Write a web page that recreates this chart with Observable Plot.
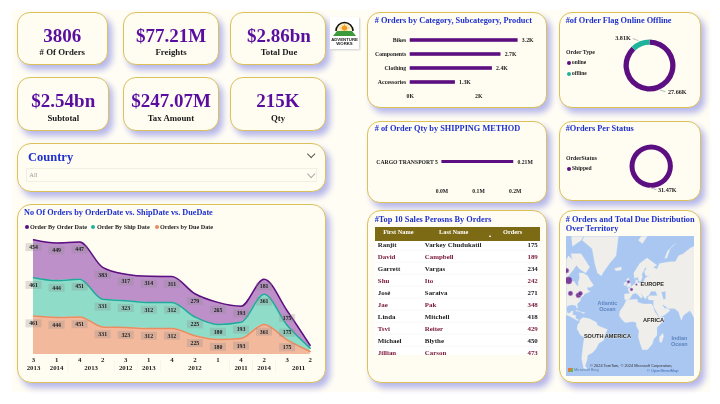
<!DOCTYPE html>
<html><head><meta charset="utf-8">
<script src="https://cdn.jsdelivr.net/npm/d3@7"></script>
<script src="https://cdn.jsdelivr.net/npm/@observablehq/plot@0.6"></script>
<style>
html,body{margin:0;padding:0;background:#fff;width:720px;height:404px;overflow:hidden}
#page{position:relative;width:720px;height:404px;overflow:hidden;font-family:"Liberation Serif",serif;font-weight:bold;filter:blur(0.4px)}
#page div{position:absolute;white-space:nowrap;line-height:1}
#page svg{position:absolute}
</style></head><body><div id="page"></div>
<script>
// ---- data ----
const kpiValues = ["3806","$77.21M","$2.86bn","$2.54bn","$247.07M","215K"];
const kpiLabels = ["# Of Orders","Freights","Total Due","Subtotal","Tax Amount","Qty"];
const seriesNames = ["Orders by Due Date","Order By Ship Date","Order By Order Date"];
const dueDate   = [461,444,451,331,323,312,312,225,180,193,361,175,36];
const shipDate  = [461,444,451,331,323,312,312,225,180,193,361,175,40];
const orderDate = [454,449,447,383,317,314,311,279,265,193,181,175,32];
const quarters  = ["3","1","4","2","3","1","4","2","1","4","2","3","2"];
const yearLabels = ["2013","2014","2013","2012","2013","2012","2011","2014","2011"];
const yearCenters = [0,1,2.5,4,5,7,9,10,11.5];
const yearBreaks = [1.5,3.5,4.5,5.5,8.5,9.5,10.5];
const categories = ["Bikes","Components","Clothing","Accessories"];
const categoryOrders = [3150,2650,2400,1320];
const categoryLabels = ["3.2K","2.7K","2.4K","1.3K"];
const shipMethods = ["CARGO TRANSPORT 5"];
const shipQty = [0.196];
const shipQtyLabels = ["0.21M"];
const flagNames = ["online","offline"];
const flagOrders = [27660,3810];
const statusNames = ["Shipped"];
const statusOrders = [31470];
const firstNames = ["Ranjit","David","Garrett","Shu","José","Jae","Linda","Tsvi","Michael","Jillian"];
const lastNames = ["Varkey Chudukatil","Campbell","Vargas","Ito","Saraiva","Pak","Mitchell","Reiter","Blythe","Carson"];
const salesOrders = [175,189,234,242,271,348,418,429,450,473];
const bubbleLon = [-94,-97,-91,-79,-76,-3,1.5,9];
const bubbleLat = [56.2,63.6,43.7,41.5,43.7,55,47.8,52.6];
const bubbleR   = [3.6,2.4,2.3,2.5,2.2,1.4,1.4,0.9];
const mapLabels = [["EUROPE",33,52.6],["AFRICA",35,7.5],["SOUTH AMERICA",-35,-16.5]];
const oceanLabels = [["Atlantic",-35,32.5,"middle"],["Ocean",-35,23.6,"middle"],["Indian",74,-19.5,"start"],["Ocean",74,-27,"start"]];
const land = [
 [[-100,68],[-94,72],[-85,69],[-82,67],[-87,64],[-94,60],[-92,57],[-85,55],[-82,52],[-79,51],[-79,55],[-77,58],[-78,62],[-72,62],[-65,60],[-62,57],[-56,52],[-60,50],[-66,50],[-65,47],[-61,46],[-66,44],[-70,43],[-71,41],[-74,40],[-76,37],[-76,35],[-81,31],[-80,26],[-81,25],[-83,29],[-89,30],[-94,29],[-97,27],[-97,22],[-95,18],[-91,19],[-90,21],[-87,21],[-88,16],[-83,15],[-83,10],[-79,9],[-80,7],[-85,10],[-92,14],[-100,17],[-110,24],[-125,40],[-130,55],[-140,60],[-165,65],[-160,71],[-130,70]],
 [[-77,8],[-72,12],[-62,10],[-52,5],[-50,0],[-44,-2.5],[-35,-6],[-39,-14],[-41,-22],[-48,-26],[-53,-34],[-58,-38],[-65,-41],[-66,-46],[-69,-52],[-65,-55],[-71,-54],[-74,-45],[-72,-30],[-70,-18],[-76,-14],[-81,-5],[-80,1],[-77,5]],
 [[-73,78],[-60,82],[-30,83.5],[-18,80],[-22,72],[-32,68],[-42,62],[-44,60],[-50,62],[-54,68],[-58,75]],
 [[-90,73],[-75,73],[-62,66],[-68,62],[-78,65],[-88,70]],
 [[-90,80],[-70,83],[-62,82],[-75,78],[-88,76]],
 [[-83,22],[-75,20],[-78,21],[-82,23]],
 [[-74,20],[-69,19],[-72,18]],
 [[-24,65],[-14,66],[-14,64],[-22,63.5]],
 [[-5,50],[1,51],[0,53],[-2,56],[-3,58.5],[-6,57],[-3,54],[-5,52]],
 [[-10,52],[-6,52],[-6,55],[-9,54.5]],
 [[12,78],[20,80],[28,80],[18,77]],
 [[52,71],[56,74],[68,77],[60,75],[55,71]],
 [[-9,37],[-9,43],[-1,43.5],[-4,48],[2,51],[8,54],[8,57],[11,56],[10,54],[20,54.5],[21,57],[24,59],[30,60],[23,60],[21,63],[25,65.5],[22,65.5],[17,61],[18,59],[16,56],[13,55.5],[11,59],[6,58],[5,62],[14,68],[25,71],[40,67],[34,66],[40,64.5],[44,68],[60,69],[68,69],[73,72],[80,73],[105,77],[140,73],[178,69],[178,50],[120,30],[105,20],[108,10],[100,13],[100,5],[98,8],[94,16],[90,22],[80,15],[77,8],[73,20],[67,25],[57,25],[50,30],[48,30],[52,25],[56,25],[60,22],[52,16],[44,12],[39,21],[35,28],[35,36],[28,36],[26,39],[29,41],[41,41],[38,46],[31,46],[28,42],[24,40],[23,37],[20,40],[14,45],[18,40],[16,38],[12,42],[8,44],[3,43],[0,39],[-2,37],[-5,36]],
 [[-6,36],[10,37],[11,33],[20,31],[32,31],[34,28],[37,20],[43,12],[51,12],[48,5],[40,-3],[40,-15],[35,-20],[33,-27],[26,-34],[18,-34.5],[15,-27],[12,-17],[13,-8],[9,-1],[9,4],[4,6],[-8,4.5],[-13,9],[-17,15],[-16,21],[-10,29]],
 [[49,-12],[50,-16],[47,-25],[44,-24],[44,-17]]
];
const water = [[[47,45],[53,46],[53,37],[50,37]]];

// ---- colours ----
const PURPLE="#5C0F80", TEAL="#1FB39B", ORANGE="#E88A5E", BLUE="#1E2FCF", INK="#1a1a1a", KPI="#5A0EA0", SEA="#A9C7F1";
const serif='"Liberation Serif",serif';
const page=document.getElementById("page");

// ---- layout helpers (page furniture, not data marks) ----
function box(x,y,w,h,css){const d=document.createElement("div");
 d.style.cssText=`left:${x}px;top:${y}px;width:${w}px;height:${h}px;box-sizing:border-box;`+(css||"");page.appendChild(d);return d;}
function card(x0,y0,x1,y1,r=13){return box(x0,y0,x1-x0,y1-y0,`background:#FFFDF2;border:1.3px solid #DCC05A;border-radius:${r}px;box-shadow:4px 5px 6px #B6B7EA;`);}
function txt(x,y,s,{size=6,color=INK,a="c",family=serif,weight="bold",extra=""}={}){
 const d=document.createElement("div");d.textContent=s;
 const tx=a==="c"?"-50%":a==="r"?"-100%":"0";
 d.style.cssText=`left:${x}px;top:${y}px;transform:translate(${tx},-50%);font-size:${size}px;color:${color};font-family:${family};font-weight:${weight};${extra}`;
 page.appendChild(d);return d;}
function title(x,y,s,size=8.3){return txt(x,y,s,{size,color:BLUE,a:"l"});}
function legendDot(x,y,c){box(x-2.2,y-2.2,4.4,4.4,`background:${c};border-radius:50%;`);}
function leader(x1,y1,x2,y2){const len=Math.hypot(x2-x1,y2-y1),ang=Math.atan2(y2-y1,x2-x1)*180/Math.PI;
 box(x1,y1,len,0.6,`background:#bdbdbd;transform-origin:0 0;transform:rotate(${ang}deg);`);}
function chevron(x,y,c){box(x-3.2,y-4.6,6.4,6.4,`border-right:0.8px solid ${c};border-bottom:0.8px solid ${c};transform:rotate(45deg);`);}
function mount(svg,x,y,bg="transparent"){svg.style.left=x+"px";svg.style.top=y+"px";svg.style.background=bg;page.appendChild(svg);}
const baseStyle=size=>({fontFamily:serif,fontWeight:"bold",fontSize:size+"px",background:"transparent",color:INK,overflow:"hidden"});

// ---- background ----
box(12,10,698,382,"background:#FFFDF4;");

// ---- KPI cards ----
const kpiBoxes=[[17.3,11.7,107.7,65,62.3],[123,11.7,219,65,171],[230,11.7,325.7,65,279],[17.3,77.3,109.3,130.7,63.3],[123,77.3,219,130.7,171],[230,77.3,325.7,130.7,278]];
kpiBoxes.forEach((b,i)=>{card(b[0],b[1],b[2],b[3]);
 txt(b[4],b[1]+23,kpiValues[i],{size:19,color:KPI});
 txt(b[4],b[1]+40.4,kpiLabels[i],{size:8.8,color:INK});});

// ---- logo ----
box(330,16.7,29,32,"background:#fff;box-shadow:1px 1px 2px #ccc;");
const logo=document.createElementNS("http://www.w3.org/2000/svg","svg");
logo.setAttribute("width",29);logo.setAttribute("height",32);logo.style.cssText="left:330px;top:16.7px;";
logo.innerHTML=`<path d="M6,14 A8.5,8.5 0 0 1 23,14" fill="#fdf3d0" stroke="#111" stroke-width="1.6"/>
<circle cx="14.5" cy="11" r="2.6" fill="#F29A1F"/><g stroke="#F29A1F" stroke-width=".6"><path d="M14.5 6v10M9.5 11h10M11 7.5l7 7M18 7.5l-7 7"/></g>
<path d="M3,19 L7,14 H22 L26,19Z" fill="#3C9A3A"/>
<text x="14.5" y="23.5" text-anchor="middle" font-family="Liberation Sans" font-weight="bold" font-size="4.3" fill="#222">ADVENTURE</text>
<text x="14.5" y="27.8" text-anchor="middle" font-family="Liberation Sans" font-weight="bold" font-size="4.3" fill="#222">WORKS</text>`;
page.appendChild(logo);

// ---- country slicer ----
card(17.3,143.3,325.7,191.7,14);
txt(28,157.3,"Country",{size:12.5,color:BLUE,a:"l"});
chevron(310.7,155.7,"#555");
box(26,168.3,291,13.4,"border:0.6px solid #F1EFE2;");
txt(29.3,175,"All",{size:6.5,color:"#9a9a9a",a:"l",weight:"normal"});
chevron(310.7,175.7,"#aaa");

// ---- area chart ----
card(17.3,203.5,325.7,383,14);
title(24,212.5,"No Of Orders by OrderDate vs. ShipDate vs. DueDate",8.2);
[[26.7,30,PURPLE,seriesNames[2]],[93.3,97,TEAL,seriesNames[1]],[156.7,160,ORANGE,seriesNames[0]]].forEach(l=>{
 legendDot(l[0],226.7,l[2]);txt(l[1],226.7,l[3],{size:6.2,a:"l"});});
const long=[];
[[dueDate,0],[shipDate,1],[orderDate,2]].forEach(([vals,k])=>vals.forEach((v,i)=>long.push({i,v,s:seriesNames[k]})));
const areaColors={domain:seriesNames,range:["#F3B99D","#8FDDC9","#BD90C9"]};
const lineColors={[seriesNames[0]]:"#E98C62",[seriesNames[1]]:"#22A99C",[seriesNames[2]]:PURPLE};
const boxSym={draw(ctx){ctx.moveTo(-8,-4);ctx.lineTo(8,-4);ctx.lineTo(8,4);ctx.lineTo(-8,4);ctx.closePath();}};
const stackOpts=extra=>({x:"i",y:"v",z:"s",order:null,...extra});
mount(Plot.plot({
 width:308.4,height:153,marginLeft:16,marginRight:15.7,marginTop:9.3,marginBottom:29,
 style:baseStyle(5.8),
 x:{axis:null,domain:[0,12]},y:{axis:null,domain:[0,1376]},
 color:areaColors,
 marks:[
  Plot.ruleX(yearBreaks,{y1:-75,y2:-215,stroke:"#F1EEDF",strokeWidth:0.6}),
  Plot.areaY(long,Plot.stackY(stackOpts({fill:"s",curve:"monotone-x"}))),
  Plot.lineY(long,Plot.stackY2(stackOpts({stroke:d=>lineColors[d.s],strokeWidth:1.5,curve:"monotone-x"}))),
  Plot.dot(long,Plot.stackY2(stackOpts({symbol:boxSym,fill:d=>d.i<12?"#8c8c8c":"none",fillOpacity:0.28,dy:7.3}))),
  Plot.text(long,Plot.stackY2(stackOpts({text:d=>d.i<12?String(d.v):"",dy:7.3,fill:INK}))),
  Plot.text(quarters,{x:(d,i)=>i,text:d=>d,frameAnchor:"bottom",dy:7.6,fill:INK,fontSize:6.8}),
  Plot.text(yearLabels,{x:(d,i)=>yearCenters[i],text:d=>d,frameAnchor:"bottom",dy:15.8,fill:INK,fontSize:6.8})
 ]
}),17.3,230);

// ---- category bars ----
card(367.3,11.7,547,108);
title(374.7,20.7,"# Orders by Category, Subcategory, Product");
const catRows=categories.map((c,i)=>({c,v:categoryOrders[i],l:categoryLabels[i]}));
mount(Plot.plot({
 width:180,height:96,marginLeft:42.7,marginRight:27.7,marginTop:20,marginBottom:17.7,style:baseStyle(5.8),
 x:{domain:[0,3200],axis:null},
 y:{domain:categories,padding:0,axis:null},
 marks:[
  Plot.barX(catRows,{x:"v",y:"c",fill:PURPLE,insetTop:5.2,insetBottom:5.2}),
  Plot.axisY({tickSize:0,tickPadding:4,label:null,fontSize:5.8}),
  Plot.text(catRows,{x:"v",y:"c",text:"l",textAnchor:"start",dx:3.7,fill:INK}),
  Plot.axisX({ticks:[0,2000],tickFormat:d=>(d/1000)+"K",tickSize:0,tickPadding:3.5,label:null,fontSize:5.8})
 ]
}),367.3,12);

// ---- flag donut ----
function arcSymbol(a0,a1,r0,r1){return {draw(ctx){d3.arc().context(ctx)({innerRadius:r0,outerRadius:r1,startAngle:a0,endAngle:a1});}};}
function donut(values,colors,r0,r1,cx,cy){
 const pie=d3.pie().sort(null)(values);
 const s=2*r1+4;
 mount(Plot.plot({width:s,height:s,margin:0,style:{background:"transparent"},
  x:{axis:null},y:{axis:null},
  marks:pie.map((p,i)=>Plot.dot([p],{frameAnchor:"middle",fill:colors[i],symbol:arcSymbol(p.startAngle,p.endAngle,r0,r1)}))
 }),cx-s/2,cy-s/2);
}
card(559,11.7,701,108);
title(565.7,20.7,"#of Order Flag Online Offline");
txt(566,53.3,"Order Type",{size:5.8,a:"l"});
legendDot(568.7,62.7,PURPLE);txt(572,62.7,flagNames[0],{size:5.4,a:"l"});
legendDot(568.7,74.2,TEAL);txt(572,74,flagNames[1],{size:5.4,a:"l"});
donut(flagOrders,[PURPLE,TEAL],20.7,26,649.3,64.7);
leader(633,37.7,639,40);txt(623,37.7,"3.81K",{size:6.2});
leader(659,89.3,666,91.7);txt(677.3,91.7,"27.66K",{size:6.2});

// ---- shipping method bar ----
card(367.3,120.5,547,203);
title(374.7,129.3,"# of Order Qty by SHIPPING METHOD");
const shipRows=shipMethods.map((m,i)=>({m,v:shipQty[i],l:shipQtyLabels[i]}));
mount(Plot.plot({
 width:180,height:83,marginLeft:74.4,marginRight:32.3,marginTop:31.8,marginBottom:31.2,style:baseStyle(5.7),
 x:{domain:[0,0.2],axis:null,clamp:false},
 y:{domain:shipMethods,padding:0,axis:null},
 marks:[
  Plot.barX(shipRows,{x:"v",y:"m",fill:PURPLE,insetTop:8,insetBottom:8}),
  Plot.axisY({tickSize:0,tickPadding:4,label:null,fontSize:5.7}),
  Plot.text(shipRows,{x:"v",y:"m",text:"l",textAnchor:"start",dx:3.7,fill:INK}),
  Plot.axisX({ticks:[0,0.1,0.2],tickFormat:d=>d.toFixed(1)+"M",tickSize:0,tickPadding:16.5,label:null,fontSize:5.7})
 ]
}),367.3,120);

// ---- status donut ----
card(559,120.5,701,201);
title(565.7,129.3,"#Orders Per Status");
txt(566,159.3,"OrderStatus",{size:5.8,a:"l"});
legendDot(568.7,169.3,PURPLE);txt(572,169.3,statusNames[0],{size:5.6,a:"l"});
donut(statusOrders,[PURPLE],16.7,21.7,650.3,165.7);
leader(650,187.3,657,189.7);txt(667.3,189.7,"31.47K",{size:6.2});

// ---- table ----
card(367.3,210,547,383,14);
title(374.7,219.7,"#Top 10 Sales Perosns By Orders");
box(375,226.7,165,14,"background:#7D6A14;");
[["First Name",398.3],["Last Name",453.7],["Orders",512.7]].forEach(h=>txt(h[1],231.9,h[0],{size:6.3,color:"#fff"}));
txt(490,237.4,"▲",{size:3.6,color:"#fff"});
box(375,240.7,165,114,"background:#FFFFFF;");
const rows=firstNames.map((f,i)=>({i,f,l:lastNames[i],o:salesOrders[i]}));
const rowColor=d=>d.i%2?"#7A1736":"#222222";
mount(Plot.plot({
 width:165,height:114,margin:0,style:baseStyle(6.9),
 x:{axis:null},y:{domain:d3.range(10),padding:0,axis:null},
 marks:[
  Plot.ruleY(rows,{y:"i",dy:5.7,stroke:"#EEEEEE",strokeWidth:0.5}),
  Plot.text(rows,{y:"i",text:"f",frameAnchor:"left",dx:2.3,dy:0.7,fill:rowColor}),
  Plot.text(rows,{y:"i",text:"l",frameAnchor:"left",dx:49.3,dy:0.7,fill:rowColor}),
  Plot.text(rows,{y:"i",text:"o",frameAnchor:"right",dx:-2.7,dy:0.7,fill:rowColor})
 ]
}),375,240.7);

// ---- map ----
card(559,210,701,383,14);
title(565.7,219.7,"# Orders and Total Due Distribution");
title(565.7,229.3,"Over Territory");
const toFeature=r=>{const ring=[...r,r[0]];let g={type:"Polygon",coordinates:[ring]};
 if(d3.geoArea(g)>2*Math.PI)g={type:"Polygon",coordinates:[[...ring].reverse()]};return g;};
const bubbles=bubbleLon.map((lon,i)=>({lon,lat:bubbleLat[i],r:bubbleR[i]}));
mount(Plot.plot({
 width:128,height:140,margin:0,style:{overflow:"hidden"},
 projection:()=>d3.geoMercator().scale(37.8).translate([64,89]).clipExtent([[0,0],[128,140]]),
 r:{type:"identity"},
 marks:[
  Plot.geo({type:"FeatureCollection",features:land.map(r=>({type:"Feature",geometry:toFeature(r)}))},{fill:"#EFEEEA",stroke:"#F6F5F2",strokeWidth:0.3}),
  Plot.geo({type:"FeatureCollection",features:water.map(r=>({type:"Feature",geometry:toFeature(r)}))},{fill:SEA}),
  Plot.dot(bubbles,{x:"lon",y:"lat",r:"r",fill:PURPLE,fillOpacity:0.78,stroke:"#B494CC",strokeWidth:0.5}),
  Plot.text(mapLabels,{x:d=>d[1],y:d=>d[2],text:d=>d[0],fontFamily:"Liberation Sans",fontSize:5.6,fill:"#1f1f1f",stroke:"#f4f3ef",strokeWidth:0.6}),
  Plot.text(oceanLabels,{x:d=>d[1],y:d=>d[2],text:d=>d[0],textAnchor:d=>d[3],fontFamily:"Liberation Sans",fontSize:5.4,fill:"#5E85BE"})
 ]
}),566,236,SEA);
txt(590,366,"© 2024 TomTom, © 2024 Microsoft Corporation,",{size:3.9,a:"l",family:"Liberation Sans",weight:"normal",color:"#333"});
txt(647,371,"© OpenStreetMap",{size:3.9,a:"l",family:"Liberation Sans",weight:"normal",color:"#3A6BB5"});
txt(574,369.6,"Microsoft Bing",{size:3.9,a:"l",family:"Liberation Sans",weight:"normal",color:"#5b7fa8"});
box(568,367.5,4.5,4.5,"background:linear-gradient(135deg,#E8783A 50%,#6BB35A 50%);");
</script></body></html>
